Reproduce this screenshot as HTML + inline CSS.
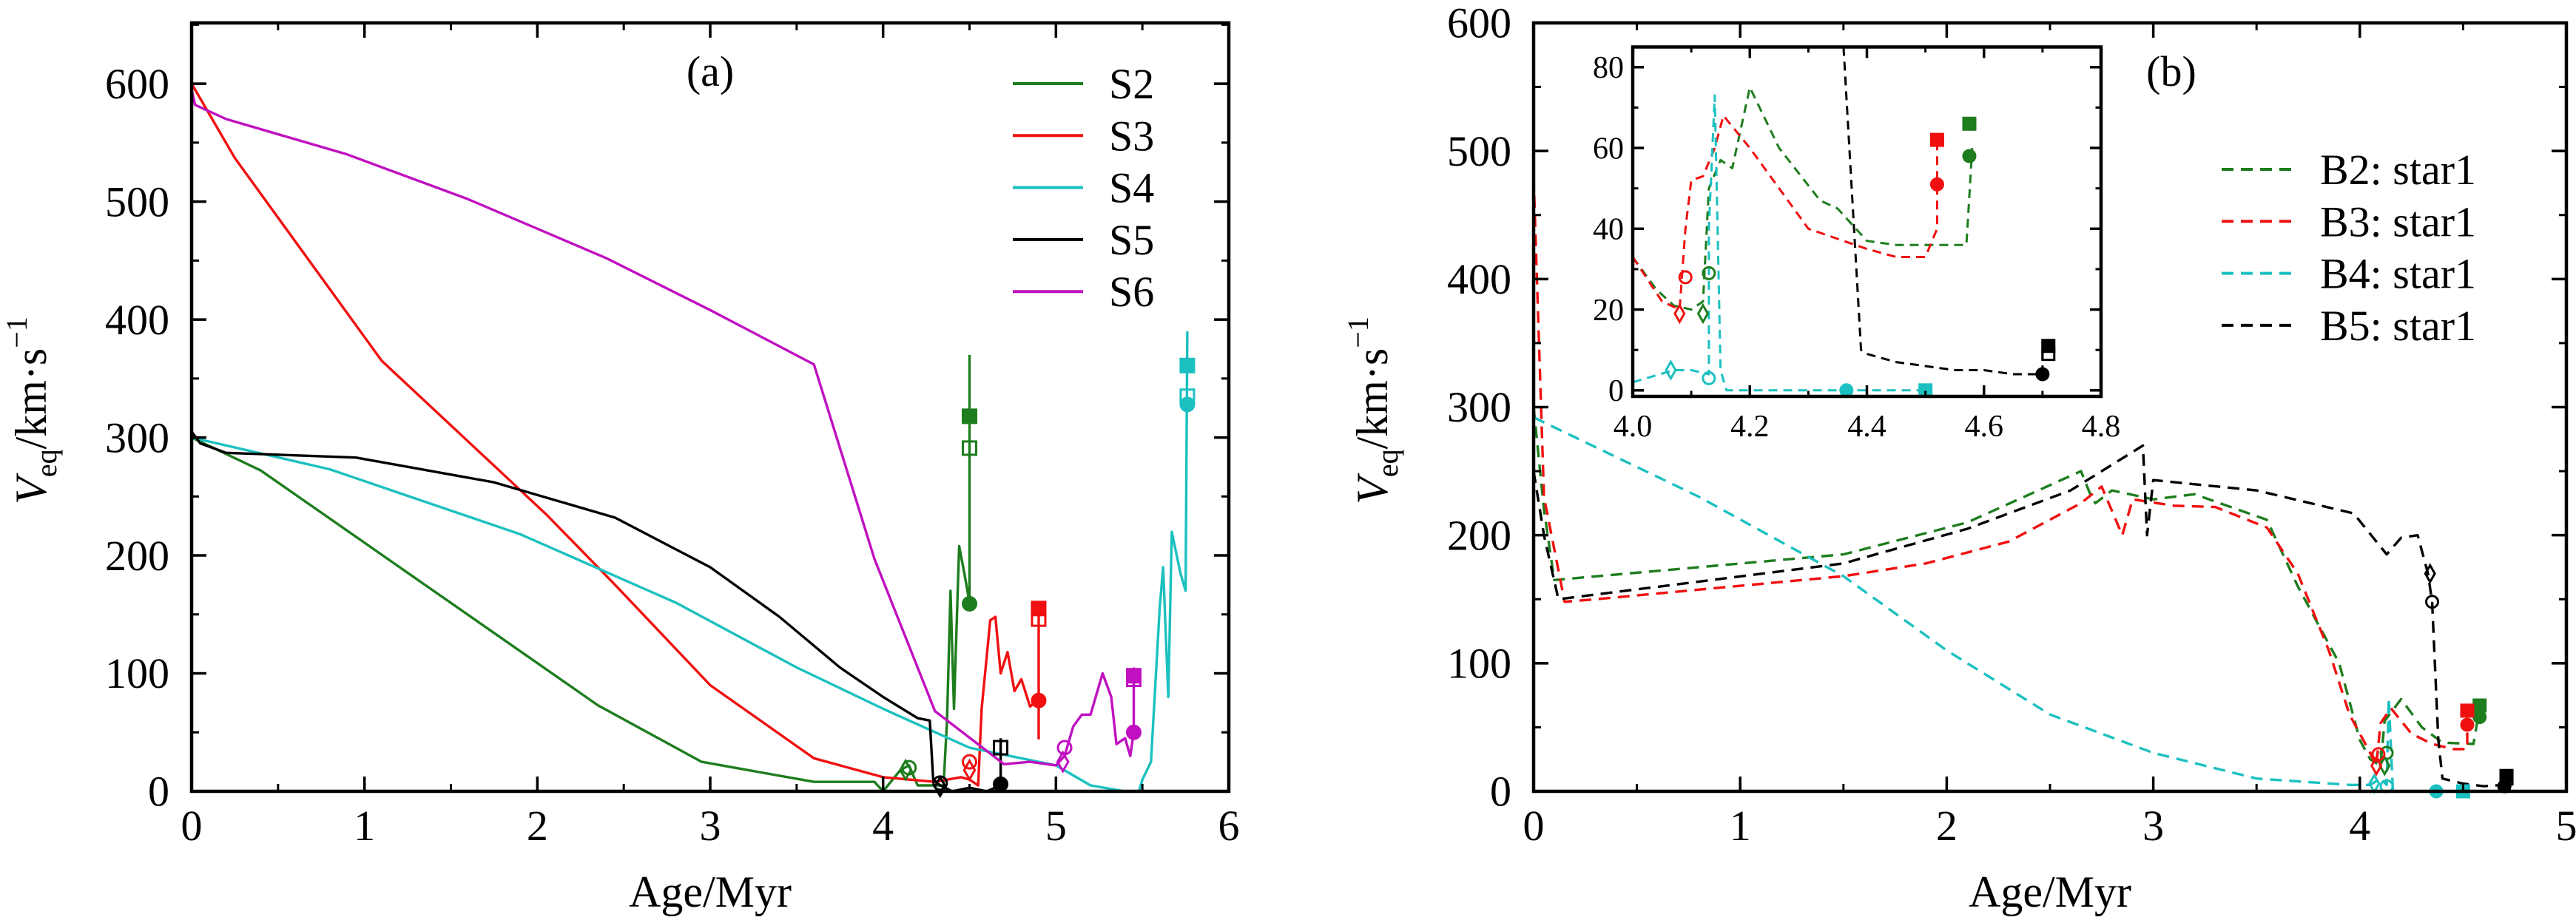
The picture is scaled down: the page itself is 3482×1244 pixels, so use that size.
<!DOCTYPE html>
<html><head><meta charset="utf-8"><style>
html,body{margin:0;padding:0;background:#fff}
svg{display:block;font-family:"Liberation Serif",serif}
</style></head><body>
<svg id="fig" width="3482" height="1244" viewBox="0 0 3482 1244" xmlns="http://www.w3.org/2000/svg">
<rect width="3482" height="1244" fill="#fff"/>
<g id="pa"></g>
<g id="pb"></g>
<g id="pi"></g>
</svg>
<script>
// ---------- data ----------
const ticksAX=[0,1,2,3,4,5,6], ticksAY=[0,100,200,300,400,500,600];
const ticksBX=[0,1,2,3,4,5], ticksBY=[0,100,200,300,400,500,600];
const ticksIX=[4.0,4.2,4.4,4.6,4.8], ticksIY=[0,20,40,60,80];
const tickLabelsIX=["4.0","4.2","4.4","4.6","4.8"];

const s2=[[0,300],[0.4,272],[2.35,73],[2.95,25],[3.6,8],[3.95,8],[4.0,0],[4.1,18],[4.15,22],[4.2,5],[4.35,5],[4.37,60],[4.39,170],[4.41,70],[4.44,208],[4.47,185],[4.5,160],[4.5,370]];
const s3=[[0,600],[0.25,537],[1.1,365],[2.05,235],[2.45,175],[3.0,90],[3.6,28],[4.0,12],[4.3,8],[4.45,12],[4.5,10],[4.55,5],[4.57,70],[4.62,145],[4.65,148],[4.68,100],[4.72,118],[4.76,85],[4.8,95],[4.85,72],[4.9,77],[4.9,45],[4.9,160]];
const s4=[[0,300],[0.8,273],[1.9,218],[2.8,160],[3.5,105],[4.0,70],[4.5,37],[5.0,22],[5.2,5],[5.4,0],[5.48,0],[5.5,10],[5.55,25],[5.6,155],[5.62,190],[5.65,80],[5.67,220],[5.72,185],[5.75,170],[5.76,390]];
const s5=[[0,305],[0.05,295],[0.2,287],[0.95,283],[1.75,262],[2.45,232],[3.0,190],[3.4,148],[3.75,105],[4.0,80],[4.2,62],[4.27,60],[4.29,10],[4.33,5],[4.4,0],[4.5,3],[4.6,0],[4.68,5],[4.68,45]];
const s6=[[0,300],[0,595],[0.02,582],[0.2,570],[0.9,540],[1.6,502],[2.4,452],[3.0,408],[3.6,362],[3.95,197],[4.3,68],[4.7,23],[4.85,25],[5.0,22],[5.05,30],[5.1,55],[5.15,65],[5.2,65],[5.27,100],[5.32,80],[5.35,40],[5.4,45],[5.43,30],[5.45,50],[5.45,105]];
const markA=[
 ["#1e7d1e","fc",4.5,159],["#1e7d1e","os",4.5,291],["#1e7d1e","fs",4.5,318],["#1e7d1e","oc",4.15,20],["#1e7d1e","od",4.13,18],
 ["#f01010","fc",4.9,77],["#f01010","os",4.9,146],["#f01010","fs",4.9,155],["#f01010","oc",4.5,25],["#f01010","od",4.5,18],
 ["#1cc0c0","fc",5.76,328],["#1cc0c0","os",5.76,335],["#1cc0c0","fs",5.76,361],
 ["#000","fc",4.68,6],["#000","os",4.68,37],["#000","oc",4.33,7],["#000","od",4.33,4],
 ["#c010c0","fc",5.45,50],["#c010c0","os",5.45,95],["#c010c0","fs",5.45,98],["#c010c0","oc",5.05,37],["#c010c0","od",5.04,25]];

const b2=[[0,300],[0.05,220],[0.1,165],[1.5,185],[2.1,210],[2.65,250],[2.7,230],[2.72,225],[2.8,235],[3.0,228],[3.2,232],[3.55,212],[3.7,160],[3.9,100],[4.0,40],[4.05,25],[4.1,20],[4.12,55],[4.2,72],[4.3,50],[4.4,38],[4.55,37],[4.58,65]];
const b3=[[0,480],[0.05,230],[0.15,148],[0.3,150],[1.5,168],[1.9,178],[2.3,195],[2.65,225],[2.75,238],[2.85,200],[2.9,228],[3.1,223],[3.3,222],[3.55,206],[3.7,170],[3.85,110],[3.95,60],[4.05,30],[4.08,20],[4.1,53],[4.15,65],[4.25,45],[4.35,37],[4.45,33],[4.52,33],[4.52,52]];
const b4=[[0,292],[0.8,230],[1.5,168],[2.0,110],[2.5,60],[3.0,30],[3.5,10],[3.95,5],[4.05,5],[4.1,10],[4.13,5],[4.14,73],[4.16,0],[4.5,0]];
const b5=[[0,250],[0.05,200],[0.12,150],[1.5,178],[2.1,205],[2.6,235],[2.95,270],[2.97,200],[3.0,243],[3.5,235],[3.97,217],[4.13,185],[4.2,198],[4.28,200],[4.33,170],[4.35,148],[4.38,40],[4.4,10],[4.5,6],[4.6,4],[4.7,5]];
const markB=[
 ["#1e7d1e","fs",4.58,67],["#1e7d1e","fc",4.58,58],["#1e7d1e","oc",4.13,30],["#1e7d1e","od",4.12,20],
 ["#f01010","fs",4.52,63],["#f01010","fc",4.52,52],["#f01010","oc",4.09,29],["#f01010","od",4.08,20],
 ["#1cc0c0","fc",4.37,0],["#1cc0c0","fs",4.5,0],["#1cc0c0","oc",4.13,4],["#1cc0c0","od",4.07,6],
 ["#000","fc",4.7,4],["#000","fs",4.71,12],["#000","os",4.71,10],["#000","oc",4.35,148],["#000","od",4.34,170]];

const i2=[[4.0,33],[4.04,25],[4.07,21],[4.1,20],[4.12,22],[4.13,50],[4.15,57],[4.17,55],[4.2,75],[4.25,60],[4.32,47],[4.35,45],[4.4,37],[4.45,36],[4.57,36],[4.58,60]];
const i3=[[4.0,33],[4.05,22],[4.08,20],[4.09,40],[4.1,52],[4.12,53],[4.14,60],[4.155,68],[4.2,60],[4.3,40],[4.4,35],[4.45,33],[4.5,33],[4.52,40],[4.52,62]];
const i4=[[4.0,2],[4.07,5],[4.1,5],[4.13,4],[4.13,40],[4.14,73],[4.145,40],[4.15,5],[4.16,0],[4.5,0]];
const i5=[[4.36,85],[4.37,60],[4.38,35],[4.39,10],[4.4,9],[4.45,7],[4.5,6],[4.55,5],[4.6,5],[4.65,4],[4.7,4],[4.7,12]];
const markI=[
 ["#1e7d1e","oc",4.13,29],["#1e7d1e","od",4.12,19],["#1e7d1e","fc",4.575,58],["#1e7d1e","fs",4.575,66],
 ["#f01010","oc",4.09,28],["#f01010","od",4.08,19],["#f01010","fc",4.52,51],["#f01010","fs",4.52,62],
 ["#1cc0c0","od",4.065,5],["#1cc0c0","oc",4.13,3],["#1cc0c0","fc",4.365,0],["#1cc0c0","fs",4.5,0],
 ["#000","fc",4.7,4],["#000","fs",4.71,11],["#000","os",4.71,9]];

// ---------- drawing ----------
const NS="http://www.w3.org/2000/svg";
function mk(tag,parent,attrs){const e=document.createElementNS(NS,tag);for(const k in attrs)e.setAttribute(k,attrs[k]);parent.appendChild(e);return e;}
function axis(L,R,T,B,x0,x1,y0,y1){
  return {sx:v=>L+(v-x0)/(x1-x0)*(R-L), sy:v=>B-(v-y0)/(y1-y0)*(B-T),L,R,T,B};
}
function line(g,ax,data,color,dash,name,w){
  const p=mk("polyline",g,{points:data.map(d=>ax.sx(d[0]).toFixed(1)+","+ax.sy(d[1]).toFixed(1)).join(" "),fill:"none",stroke:color,"stroke-width":w||3.4,"stroke-dasharray":dash||"none","stroke-linejoin":"round"});
  
  
}
function marker(g,ax,m,r){
  const [c,t,xv,yv]=m;const x=ax.sx(xv),y=ax.sy(yv);let e;
  const fill=t[0]==="f"?c:"none";
  if(t[1]==="c") e=mk("circle",g,{cx:x,cy:y,r:r,fill:fill,stroke:c,"stroke-width":3});
  else if(t[1]==="s") e=mk("rect",g,{x:x-r,y:y-r,width:2*r,height:2*r,fill:fill,stroke:c,"stroke-width":3});
  else e=mk("polygon",g,{points:`${x},${y-r*1.4} ${x+r*0.8},${y} ${x},${y+r*1.4} ${x-r*0.8},${y}`,fill:"none",stroke:c,"stroke-width":3});
  
  
}
function frame(g,ax,xt,yt,xminor,yminor,fs,tl,xlab,dx,dy){
  const r=mk("rect",g,{x:ax.L,y:ax.T,width:ax.R-ax.L,height:ax.B-ax.T,fill:"none",stroke:"#000","stroke-width":4.5});
  
  
  xminor.forEach(v=>{const x=ax.sx(v);mk("line",g,{x1:x,x2:x,y1:ax.B,y2:ax.B-tl/2,stroke:"#000","stroke-width":3});mk("line",g,{x1:x,x2:x,y1:ax.T,y2:ax.T+tl/2,stroke:"#000","stroke-width":3});});
  yminor.forEach(v=>{const y=ax.sy(v);mk("line",g,{x1:ax.L,x2:ax.L+tl/2,y1:y,y2:y,stroke:"#000","stroke-width":3});mk("line",g,{x1:ax.R,x2:ax.R-tl/2,y1:y,y2:y,stroke:"#000","stroke-width":3});});
  xt.forEach((v,i)=>{const x=ax.sx(v);mk("line",g,{x1:x,x2:x,y1:ax.B,y2:ax.B-tl,stroke:"#000","stroke-width":3.5});mk("line",g,{x1:x,x2:x,y1:ax.T,y2:ax.T+tl,stroke:"#000","stroke-width":3.5});
    const t=mk("text",g,{x:x,y:ax.B+dy,"font-size":fs,"text-anchor":"middle"});t.textContent=xlab?xlab[i]:String(v);
    
    });
  yt.forEach(v=>{const y=ax.sy(v);mk("line",g,{x1:ax.L,x2:ax.L+tl,y1:y,y2:y,stroke:"#000","stroke-width":3.5});mk("line",g,{x1:ax.R,x2:ax.R-tl,y1:y,y2:y,stroke:"#000","stroke-width":3.5});
    const t=mk("text",g,{x:ax.L-dx,y:y+fs*0.34,"font-size":fs,"text-anchor":"end"});t.textContent=String(v);
    
    });
}
function range(a,b,s){const o=[];for(let v=a;v<=b+1e-9;v+=s)o.push(+v.toFixed(4));return o;}
function labels(g,cx,cy,lx,ly){
  const t=mk("text",g,{x:cx,y:cy,"font-size":60,"text-anchor":"middle"});t.textContent="Age/Myr";
  
  
  const y=mk("text",g,{x:0,y:0,"font-size":60,"text-anchor":"middle",transform:`translate(${lx},${ly}) rotate(-90)`});
  y.innerHTML='<tspan font-style="italic">V</tspan><tspan font-size="40" dy="14">eq</tspan><tspan dy="-14">/km·s</tspan><tspan font-size="40" dy="-26">−1</tspan>';
  
  
}
function legend(g,items,x1,x2,tx,y0,dy,dash){
  items.forEach((it,i)=>{const y=y0+i*dy;
    const l=mk("line",g,{x1:x1,x2:x2,y1:y,y2:y,stroke:it[1],"stroke-width":4,"stroke-dasharray":dash||"none"});
    
    
    const t=mk("text",g,{x:tx,y:y+20,"font-size":58});t.textContent=it[0];
    
    });
}

// Panel a
const ga=document.getElementById("pa");
const A=axis(259,1661,31,1070,0,6,0,651.5);
[[s2,"#1e7d1e","series-s2"],[s3,"#f01010","series-s3"],[s4,"#1cc0c0","series-s4"],[s5,"#000","series-s5"],[s6,"#c010c0","series-s6"]].forEach(s=>line(ga,A,s[0],s[1],null,s[2]));
markA.forEach(m=>marker(ga,A,m,9));
frame(ga,A,ticksAX,ticksAY,range(0,6,0.5),range(0,650,50),58,20,null,30,66);
legend(ga,[["S2","#1e7d1e"],["S3","#f01010"],["S4","#1cc0c0"],["S5","#000"],["S6","#c010c0"]],1369,1464,1499,113,70.3);
{const t=mk("text",ga,{x:960,y:116,"font-size":58,"text-anchor":"middle"});t.textContent="(a)";}
labels(ga,960,1226,62,555);

// Panel b
const gb=document.getElementById("pb");
const Bx=axis(2073,3469,31,1070,0,5,0,600);
const dashS="16,10";
[[b2,"#1e7d1e","series-b2-star1"],[b3,"#f01010","series-b3-star1"],[b4,"#1cc0c0","series-b4-star1"],[b5,"#000","series-b5-star1"]].forEach(s=>line(gb,Bx,s[0],s[1],dashS,s[2]));
markB.forEach(m=>marker(gb,Bx,m,8));
frame(gb,Bx,ticksBX,ticksBY,range(0,5,0.5),range(0,600,50),58,20,null,30,66);
legend(gb,[["B2: star1","#1e7d1e"],["B3: star1","#f01010"],["B4: star1","#1cc0c0"],["B5: star1","#000"]],3003,3101,3136,229,70.3,dashS);
{const t=mk("text",gb,{x:2935,y:116,"font-size":58,"text-anchor":"middle"});t.textContent="(b)";}
labels(gb,2771,1226,1875,555);

// Inset
const gi=document.getElementById("pi");
{const r=mk("rect",gi,{x:2207,y:63,width:633,height:473,fill:"#fff"});}
const I=axis(2207,2840,63.5,536,4.0,4.8,-1.5,85);
const clip=mk("clipPath",gi,{id:"ic"});mk("rect",clip,{x:2207,y:63,width:633,height:473});
const gic=mk("g",gi,{"clip-path":"url(#ic)"});


[[i2,"#1e7d1e","inset-b2"],[i3,"#f01010","inset-b3"],[i4,"#1cc0c0","inset-b4"],[i5,"#000","inset-b5"]].forEach(s=>line(gic,I,s[0],s[1],"12,8",s[2],3));
markI.forEach(m=>marker(gi,I,m,8));
frame(gi,I,ticksIX,ticksIY,range(4.0,4.8,0.1),range(0,80,10),42,15,tickLabelsIX,12,54);
</script>
</body></html>
